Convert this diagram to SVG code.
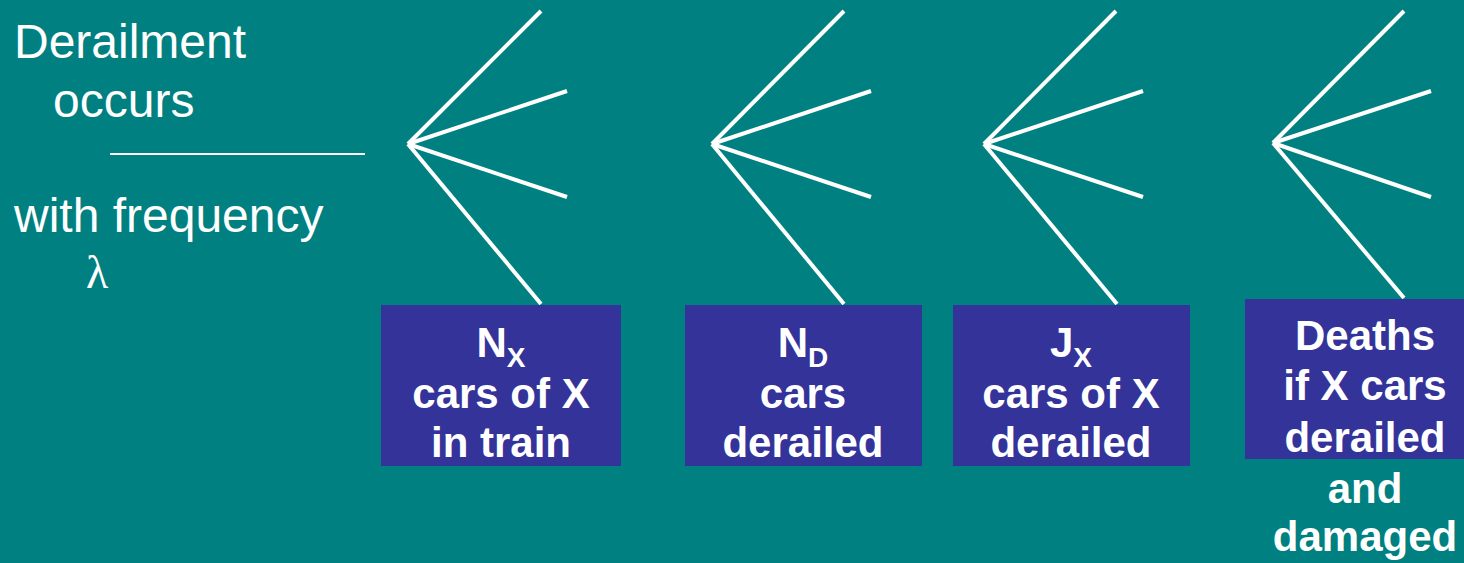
<svg xmlns="http://www.w3.org/2000/svg" width="1464" height="563" viewBox="0 0 1464 563">
  <style>
    .bg { fill: #008080; }
    .fan line { stroke: #ffffff; stroke-width: 4; stroke-linecap: butt; }
    .box { fill: #333399; }
    .lbl { font-family: "Liberation Sans", Arial, sans-serif; font-weight: bold; font-size: 42px; fill: #ffffff; text-anchor: middle; }
    .sub { font-size: 28px; }
    .intro { font-family: "Liberation Sans", Arial, sans-serif; font-size: 48px; fill: #ffffff; }
    .greek { font-family: "Liberation Serif", "Times New Roman", serif; font-size: 46px; fill: #ffffff; }
  </style>
  <rect class="bg" x="0" y="0" width="1464" height="563"/>

  <!-- Event description -->
  <g id="event">
    <text class="intro" x="14" y="58">Derailment</text>
    <text class="intro" x="53" y="117">occurs</text>
    <line x1="110" y1="154" x2="365" y2="154" stroke="#ffffff" stroke-width="2"/>
    <text class="intro" x="14" y="232">with frequency</text>
    <text class="greek" x="86" y="288">λ</text>
  </g>

  <!-- Branch fans -->
  <g id="connectors" class="fan">
    <g id="fan1">
      <line x1="408" y1="144" x2="541" y2="11"/>
      <line x1="408" y1="144" x2="567" y2="91"/>
      <line x1="408" y1="144" x2="567" y2="197"/>
      <line x1="408" y1="144" x2="541" y2="304"/>
    </g>
    <g id="fan2">
      <line x1="712" y1="144" x2="844" y2="11"/>
      <line x1="712" y1="144" x2="871" y2="91"/>
      <line x1="712" y1="144" x2="871" y2="197"/>
      <line x1="712" y1="144" x2="844" y2="304"/>
    </g>
    <g id="fan3">
      <line x1="984" y1="144" x2="1116" y2="11"/>
      <line x1="984" y1="144" x2="1143" y2="91"/>
      <line x1="984" y1="144" x2="1143" y2="197"/>
      <line x1="984" y1="144" x2="1117" y2="304"/>
    </g>
    <g id="fan4">
      <line x1="1273" y1="143" x2="1404" y2="11"/>
      <line x1="1273" y1="143" x2="1431" y2="91"/>
      <line x1="1273" y1="143" x2="1431" y2="197"/>
      <line x1="1273" y1="143" x2="1404" y2="298"/>
    </g>
  </g>

  <g id="node-nx">
    <rect class="box" x="381" y="305" width="240" height="161"/>
    <text class="lbl" x="501" y="357">N<tspan class="sub" dy="10">X</tspan></text>
    <text class="lbl" x="501" y="408">cars of X</text>
    <text class="lbl" x="501" y="457">in train</text>
  </g>

  <g id="node-nd">
    <rect class="box" x="685" y="305" width="237" height="161"/>
    <text class="lbl" x="803" y="357">N<tspan class="sub" dy="10">D</tspan></text>
    <text class="lbl" x="803" y="408">cars</text>
    <text class="lbl" x="803" y="457">derailed</text>
  </g>

  <g id="node-jx">
    <rect class="box" x="953" y="305" width="237" height="161"/>
    <text class="lbl" x="1071" y="357">J<tspan class="sub" dy="10">X</tspan></text>
    <text class="lbl" x="1071" y="408">cars of X</text>
    <text class="lbl" x="1071" y="457">derailed</text>
  </g>

  <g id="node-deaths">
    <rect class="box" x="1245" y="299" width="219" height="160"/>
    <text class="lbl" x="1365" y="350">Deaths</text>
    <text class="lbl" x="1365" y="400">if X cars</text>
    <text class="lbl" x="1365" y="452">derailed</text>
    <text class="lbl" x="1365" y="503">and</text>
    <text class="lbl" x="1365" y="551">damaged</text>
  </g>
</svg>
